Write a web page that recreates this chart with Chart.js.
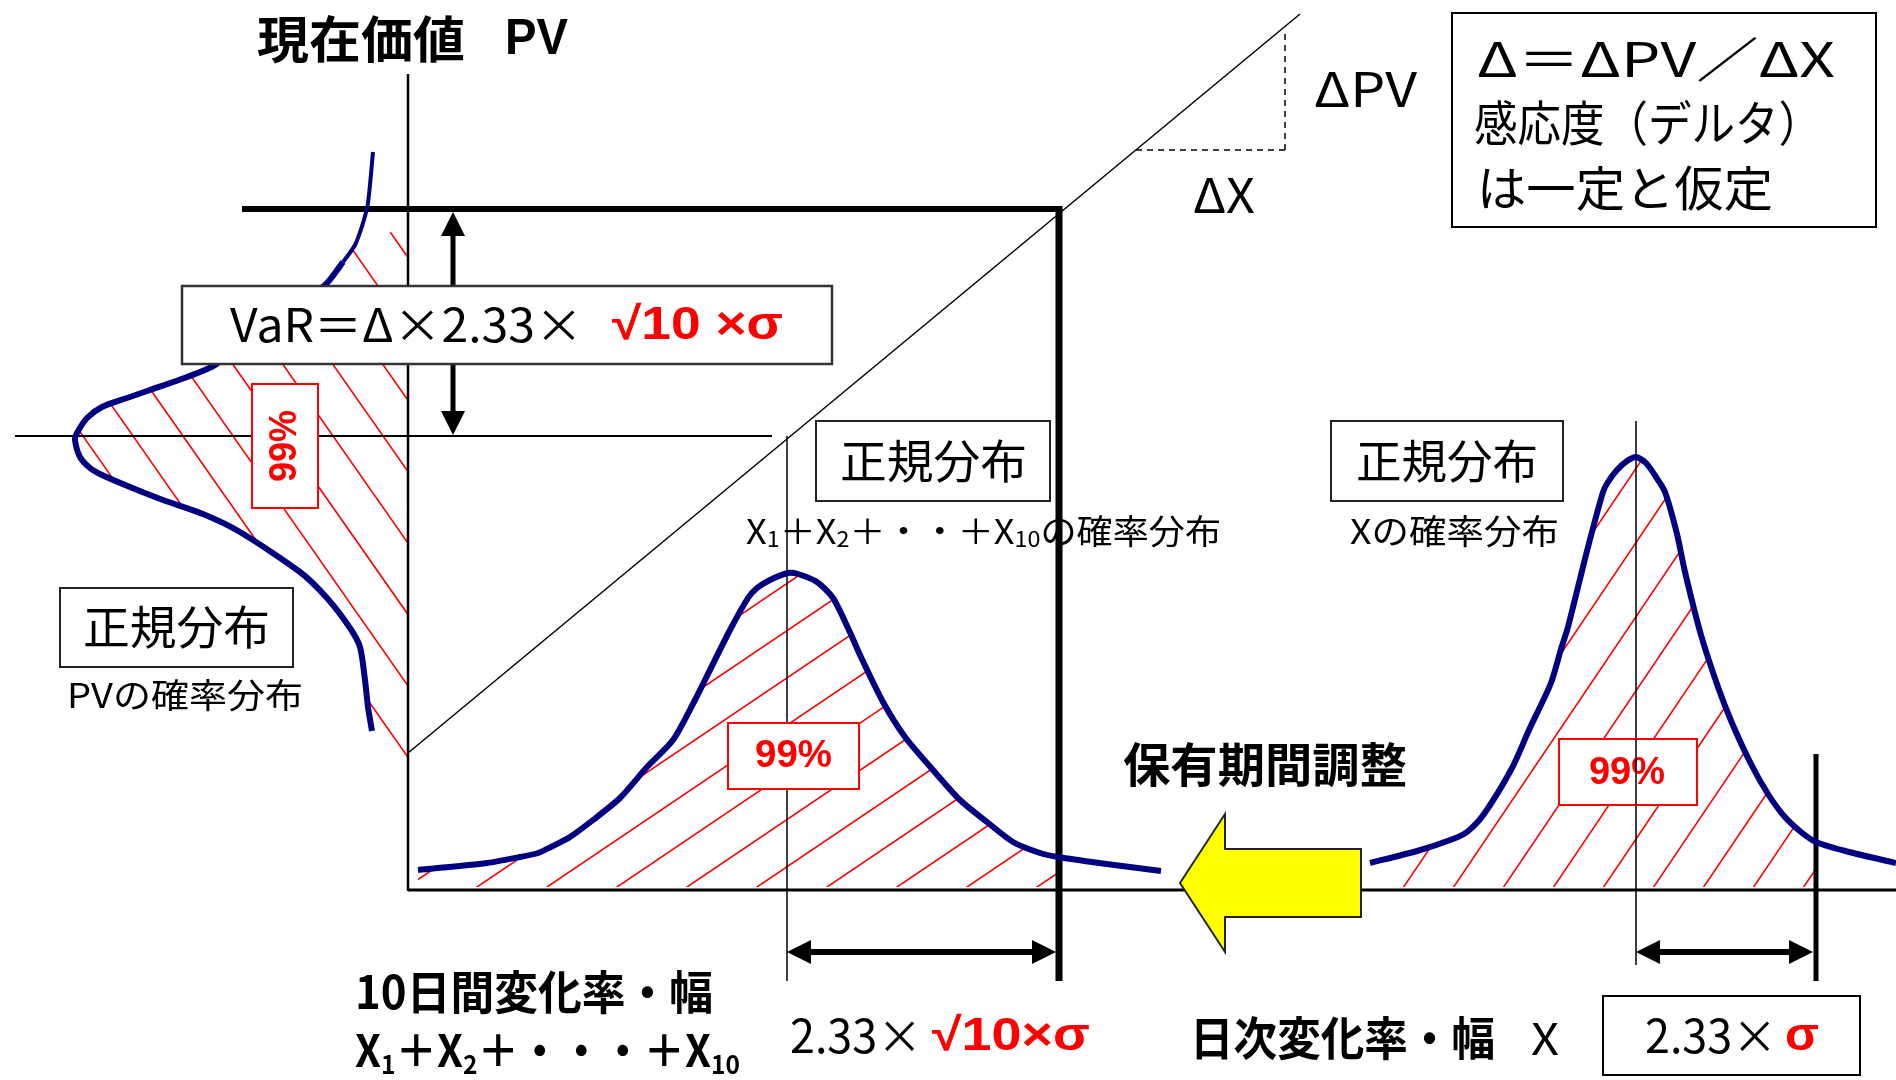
<!DOCTYPE html>
<html lang="ja">
<head>
<meta charset="utf-8">
<title>VaR 保有期間調整</title>
<script src="https://cdn.jsdelivr.net/npm/chart.js@4.4.1/dist/chart.umd.min.js"></script>
<style>
  html, body { margin: 0; padding: 0; background: #fff; }
  canvas { display: block; }
</style>
</head>
<body>
<canvas id="myChart" width="1896" height="1080"></canvas>
<script>
// 図の座標系 (横 0..1896, 縦 0..1080 下向き)
const W = 1896;
const H = 1080;

// PV の確率分布 (横倒しの曲線)
const pvCurveX = [373, 368, 363, 355, 343, 325, 215, 187, 150, 127, 102, 87, 77, 75, 80, 90, 102, 130, 163, 203, 240, 300, 327, 350, 360, 365, 368, 372];
const pvCurveY = [152, 203, 223, 245, 262, 285, 365, 377, 390, 398, 407, 418, 433, 440, 457, 468, 475, 487, 500, 514, 532, 572, 598, 628, 647, 680, 707, 731];

// X1+X2+...+X10 の確率分布
const tenDayX = [418, 487, 520, 538, 553, 570, 593, 620, 647, 673, 695, 705, 730, 748, 757, 770, 788, 798, 817, 833, 848, 860, 883, 905, 933, 960, 987, 1013, 1040, 1058, 1099, 1161];
const tenDayY = [870, 863, 857, 853, 846, 837, 820, 798, 767, 740, 700, 680, 630, 598, 588, 580, 573, 574, 582, 598, 628, 655, 702, 737, 770, 800, 822, 842, 853, 857, 863, 871];

// X の確率分布 (日次)
const dailyX = [1370, 1417, 1453, 1467, 1484, 1512, 1529, 1551, 1561, 1568, 1587, 1603, 1608, 1617, 1627, 1636, 1646, 1656, 1665, 1677, 1685, 1701, 1718, 1732, 1751, 1768, 1784, 1801, 1816, 1849, 1896];
const dailyY = [863, 851, 839, 832, 814, 768, 730, 683, 649, 627, 551, 492, 482, 470, 461, 457, 463, 477, 492, 534, 572, 635, 687, 723, 764, 794, 816, 832, 842, 852, 863];

// 軸と基準線
const pvAxisX = 408;
const xAxisY = 890;
const pvVarLevel = 209;     // VaR 後の PV
const pvMeanLevel = 436;    // 現在の PV
const tenDayMean = 787;
const tenDayVar = 1059;
const dailyMean = 1636;
const dailyVar = 1816;
const deltaLine = [[408, 753], [1300, 14]];     // 感応度の直線
const deltaStep = [[1136, 150], [1285, 150], [1285, 29]];

// テキスト
const titleText = ['現在価値', 'PV'];
const deltaBoxLines = ['Δ＝ΔPV／ΔX', '感応度（デルタ）', 'は一定と仮定'];
const varLabel = ['VaR＝Δ×2.33×', '√10 ×σ'];
const normalLabel = '正規分布';
const pctLabel = '99%';
const holdLabel = '保有期間調整';

const NAVY = '#000080';
const RED = '#ff0000';
const CJK = '"Noto Sans CJK JP", "Noto Sans", sans-serif';
const LAT = '"Liberation Sans", Arial, sans-serif';

const pts = (xs, ys) => xs.map((x, i) => ({ x, y: ys[i] }));
const seg = (a, b, w, extra) => Object.assign({
  data: [{ x: a[0], y: a[1] }, { x: b[0], y: b[1] }],
  showLine: true, borderColor: '#000', borderWidth: w, pointRadius: 0, clip: false, tension: 0
}, extra || {});

const curve = (xs, ys, extra) => Object.assign({
  data: pts(xs, ys), showLine: true, borderColor: NAVY, borderWidth: 6,
  pointRadius: 0, tension: 0.25, clip: false, borderCapStyle: 'butt', borderJoinStyle: 'round'
}, extra || {});

// ---- helpers -------------------------------------------------------
function drawRuns(ctx, runs, x, yMid, width) {
  let total = 0;
  runs.forEach(r => { ctx.font = r.font; r.w = ctx.measureText(r.t).width; total += r.w + (r.gap || 0); });
  const s = width ? width / total : 1;
  ctx.save();
  ctx.translate(x, yMid);
  ctx.scale(s, 1);
  ctx.textBaseline = 'middle';
  ctx.textAlign = 'left';
  let cx = 0;
  runs.forEach(r => {
    ctx.font = r.font;
    ctx.fillStyle = r.color || '#000';
    ctx.fillText(r.t, cx, r.dy || 0);
    cx += r.w + (r.gap || 0);
  });
  ctx.restore();
}

function box(ctx, x1, y1, x2, y2, color, lw) {
  ctx.save();
  ctx.fillStyle = '#fff';
  ctx.fillRect(x1, y1, x2 - x1, y2 - y1);
  ctx.strokeStyle = color;
  ctx.lineWidth = lw;
  ctx.strokeRect(x1, y1, x2 - x1, y2 - y1);
  ctx.restore();
}

function arrowHead(ctx, tx, ty, ux, uy, len, half) {
  // (ux,uy) は矢印の向き
  ctx.beginPath();
  ctx.moveTo(tx, ty);
  ctx.lineTo(tx - ux * len - uy * half, ty - uy * len + ux * half);
  ctx.lineTo(tx - ux * len + uy * half, ty - uy * len - ux * half);
  ctx.closePath();
  ctx.fill();
}

function doubleArrow(ctx, x1, y1, x2, y2, lw) {
  const L = Math.hypot(x2 - x1, y2 - y1);
  const ux = (x2 - x1) / L, uy = (y2 - y1) / L;
  ctx.save();
  ctx.strokeStyle = '#000';
  ctx.fillStyle = '#000';
  ctx.lineWidth = lw;
  ctx.beginPath();
  ctx.moveTo(x1 + ux * 20, y1 + uy * 20);
  ctx.lineTo(x2 - ux * 20, y2 - uy * 20);
  ctx.stroke();
  arrowHead(ctx, x2, y2, ux, uy, 24, 12);
  arrowHead(ctx, x1, y1, -ux, -uy, 24, 12);
  ctx.restore();
}

function hatch(ctx, poly, ax, ay, step, angleDeg) {
  ctx.save();
  ctx.beginPath();
  poly.forEach((p, i) => i ? ctx.lineTo(p[0], p[1]) : ctx.moveTo(p[0], p[1]));
  ctx.closePath();
  ctx.clip();
  const a = angleDeg * Math.PI / 180;
  const dx = Math.cos(a), dy = -Math.sin(a);
  ctx.strokeStyle = RED;
  ctx.lineWidth = 1.6;
  ctx.beginPath();
  for (let k = -30; k <= 30; k++) {
    const x0 = ax + k * step;
    ctx.moveTo(x0 - dx * 1500, ay - dy * 1500);
    ctx.lineTo(x0 + dx * 1500, ay + dy * 1500);
  }
  ctx.stroke();
  ctx.restore();
}

// ---- plugins -------------------------------------------------------
const hatchPlugin = {
  id: 'hatch',
  beforeDatasetsDraw(chart) {
    const ctx = chart.ctx;
    const X = v => chart.scales.x.getPixelForValue(v);
    const Y = v => chart.scales.y.getPixelForValue(v);

    // PV 分布 (曲線の右側、PV 軸まで)
    const pvPoly = [];
    pvCurveX.forEach((x, i) => { if (pvCurveY[i] >= 226) pvPoly.push([X(x), Y(pvCurveY[i])]); });
    pvPoly.push([X(380), Y(778)], [X(pvAxisX), Y(778)], [X(pvAxisX), Y(226)]);
    hatch(ctx, pvPoly, X(333), Y(pvMeanLevel), 50, -55);

    // 10日間分布
    const tPoly = [];
    tenDayX.forEach((x, i) => { if (x <= tenDayVar) tPoly.push([X(x), Y(tenDayY[i])]); });
    tPoly.push([X(tenDayVar), Y(tenDayY[29])], [X(tenDayVar), Y(xAxisY - 3)], [X(tenDayX[0]), Y(xAxisY - 3)]);
    hatch(ctx, tPoly, X(757), Y(xAxisY - 3), 70, 34);

    // 日次分布
    const dPoly = [];
    dailyX.forEach((x, i) => { if (x <= dailyVar) dPoly.push([X(x), Y(dailyY[i])]); });
    dPoly.push([X(dailyVar), Y(xAxisY - 3)], [X(dailyX[0]), Y(xAxisY - 3)]);
    hatch(ctx, dPoly, X(1653), Y(xAxisY - 2), 50, 56);
  }
};

const overlayPlugin = {
  id: 'overlay',
  afterDatasetsDraw(chart) {
    const ctx = chart.ctx;
    const X = v => chart.scales.x.getPixelForValue(v);
    const Y = v => chart.scales.y.getPixelForValue(v);

    // 矢印
    doubleArrow(ctx, X(453), Y(pvVarLevel + 3), X(453), Y(pvMeanLevel - 1), 5);
    doubleArrow(ctx, X(tenDayMean), Y(952), X(tenDayVar - 3), Y(952), 6);
    doubleArrow(ctx, X(dailyMean), Y(952), X(dailyVar - 3), Y(952), 6);

    // 保有期間調整の黄色い矢印
    ctx.save();
    ctx.beginPath();
    [[1180, 883], [1225, 814], [1225, 849], [1361, 849], [1361, 917], [1225, 917], [1225, 952]]
      .forEach((p, i) => i ? ctx.lineTo(X(p[0]), Y(p[1])) : ctx.moveTo(X(p[0]), Y(p[1])));
    ctx.closePath();
    ctx.fillStyle = '#ffff00';
    ctx.fill();
    ctx.strokeStyle = '#222';
    ctx.lineWidth = 2;
    ctx.stroke();
    ctx.restore();

    // タイトル
    drawRuns(ctx, [{ t: titleText[0], font: `bold 50px ${CJK}` }], X(257), Y(39), 208);
    drawRuns(ctx, [{ t: titleText[1], font: `bold 50px ${LAT}` }], X(505), Y(40), 63);

    // ΔPV, ΔX
    drawRuns(ctx, [{ t: 'ΔPV', font: `48px ${CJK}` }], X(1314), Y(89), 103);
    drawRuns(ctx, [{ t: 'ΔX', font: `48px ${CJK}` }], X(1193), Y(195), 62);

    // 右上の説明ボックス
    box(ctx, X(1452), Y(13), X(1876), Y(227), '#000', 2);
    drawRuns(ctx, [{ t: deltaBoxLines[0], font: `48px ${CJK}` }], X(1477), Y(59), 358);
    drawRuns(ctx, [{ t: deltaBoxLines[1], font: `48px ${CJK}` }], X(1474), Y(123), 348);
    drawRuns(ctx, [{ t: deltaBoxLines[2], font: `48px ${CJK}` }], X(1477), Y(188), 296);

    // VaR 式
    box(ctx, X(182), Y(286), X(832), Y(364), '#333', 2.5);
    drawRuns(ctx, [{ t: varLabel[0], font: `46px ${CJK}` }], X(230), Y(325), 353);
    drawRuns(ctx, [{ t: varLabel[1], font: `bold 46px ${LAT}`, color: RED }], X(612), Y(326), 171);

    // 正規分布ラベル
    box(ctx, X(816), Y(421), X(1050), Y(501), '#222', 2);
    drawRuns(ctx, [{ t: normalLabel, font: `46px ${CJK}` }], X(840), Y(461), 187);
    box(ctx, X(1331), Y(421), X(1563), Y(501), '#222', 2);
    drawRuns(ctx, [{ t: normalLabel, font: `46px ${CJK}` }], X(1356), Y(461), 182);
    box(ctx, X(60), Y(588), X(293), Y(667), '#222', 2);
    drawRuns(ctx, [{ t: normalLabel, font: `46px ${CJK}` }], X(83), Y(627), 187);

    const f34 = `34px ${CJK}`, s22 = `22px ${CJK}`;
    drawRuns(ctx, [
      { t: 'X', font: f34 }, { t: '1', font: s22, dy: 8 }, { t: '＋X', font: f34 }, { t: '2', font: s22, dy: 8 },
      { t: '＋・・＋X', font: f34 }, { t: '10', font: s22, dy: 8 }, { t: 'の確率分布', font: f34 }
    ], X(746), Y(531), 475);
    drawRuns(ctx, [{ t: 'Xの確率分布', font: f34 }], X(1350), Y(531), 209);
    drawRuns(ctx, [{ t: 'PVの確率分布', font: f34 }], X(67), Y(695), 236);

    // 99% ラベル
    box(ctx, X(728), Y(723), X(859), Y(789), RED, 2);
    drawRuns(ctx, [{ t: pctLabel, font: `bold 38px ${LAT}`, color: RED }], X(755), Y(757), 77);
    box(ctx, X(1559), Y(739), X(1697), Y(805), RED, 2);
    drawRuns(ctx, [{ t: pctLabel, font: `bold 38px ${LAT}`, color: RED }], X(1589), Y(774), 76);
    box(ctx, X(252), Y(384), X(318), Y(508), RED, 2);
    ctx.save();
    ctx.translate(X(286), Y(446));
    ctx.rotate(-Math.PI / 2);
    drawRuns(ctx, [{ t: pctLabel, font: `bold 38px ${LAT}`, color: RED }], -36, 0, 72);
    ctx.restore();

    // 日次の平均線はラベルの上に見える
    ctx.save();
    ctx.strokeStyle = '#000';
    ctx.lineWidth = 1.5;
    ctx.beginPath();
    ctx.moveTo(X(dailyMean), Y(739));
    ctx.lineTo(X(dailyMean), Y(805));
    ctx.stroke();
    ctx.restore();

    // 保有期間調整
    drawRuns(ctx, [{ t: holdLabel, font: `bold 47px ${CJK}` }], X(1123), Y(764), 284);

    // 下部のテキスト
    const b44 = `bold 44px ${CJK}`, b26 = `bold 26px ${CJK}`;
    drawRuns(ctx, [{ t: '10日間変化率・幅', font: `bold 46px ${CJK}` }], X(355), Y(992), 358);
    drawRuns(ctx, [
      { t: 'X', font: b44 }, { t: '1', font: b26, dy: 14 }, { t: '＋X', font: b44 }, { t: '2', font: b26, dy: 14 },
      { t: '＋・・・＋X', font: b44 }, { t: '10', font: b26, dy: 14 }
    ], X(355), Y(1050), 385);

    drawRuns(ctx, [{ t: '2.33×', font: `46px ${CJK}` }], X(790), Y(1036), 132);
    drawRuns(ctx, [{ t: '√10×σ', font: `bold 46px ${LAT}`, color: RED }], X(932), Y(1037), 158);

    drawRuns(ctx, [{ t: '日次変化率・幅', font: `bold 46px ${CJK}` }], X(1190), Y(1038), 305);
    drawRuns(ctx, [{ t: 'X', font: `44px ${CJK}` }], X(1531), Y(1038), 28);

    box(ctx, X(1603), Y(996), X(1860), Y(1075), '#000', 2);
    drawRuns(ctx, [{ t: '2.33×', font: `46px ${CJK}` }], X(1645), Y(1036), 132);
    drawRuns(ctx, [{ t: 'σ', font: `bold 46px ${LAT}`, color: RED }], X(1785), Y(1037), 34);
  }
};

// ---- chart ---------------------------------------------------------
const setup = () => {
  const ctxt = document.getElementById('myChart').getContext('2d');

  new Chart(ctxt, {
    type: 'scatter',
    data: {
      datasets: [
        curve(pvCurveX, pvCurveY, {
          segment: { borderWidth: c => c.p0.parsed.y < 262 ? 4 : 6 }
        }),
        curve(tenDayX, tenDayY),
        curve(dailyX, dailyY),
        seg([pvAxisX, 74], [pvAxisX, xAxisY + 1], 2.5),
        seg([pvAxisX, xAxisY], [W, xAxisY], 3),
        seg([242, pvVarLevel], [tenDayVar + 3, pvVarLevel], 6),
        seg([tenDayVar, pvVarLevel - 3], [tenDayVar, 981], 7),
        seg([15, pvMeanLevel], [772, pvMeanLevel], 2),
        seg(deltaLine[0], deltaLine[1], 1.5),
        seg(deltaStep[0], deltaStep[1], 1.5, { borderDash: [6, 5] }),
        seg(deltaStep[1], deltaStep[2], 1.5, { borderDash: [6, 5] }),
        seg([tenDayMean, pvMeanLevel], [tenDayMean, 981], 1.5),
        seg([dailyMean, 421], [dailyMean, 965], 1.5),
        seg([dailyVar, 754], [dailyVar, 981], 5)
      ]
    },
    options: {
      responsive: false,
      animation: false,
      devicePixelRatio: 1,
      events: [],
      layout: { padding: 0 },
      plugins: { legend: { display: false }, tooltip: { enabled: false } },
      scales: {
        x: { type: 'linear', min: 0, max: W, display: false },
        y: { type: 'linear', min: 0, max: H, reverse: true, display: false }
      }
    },
    plugins: [hatchPlugin, overlayPlugin]
  });
};

window.addEventListener('DOMContentLoaded', setup);
</script>
</body>
</html>
